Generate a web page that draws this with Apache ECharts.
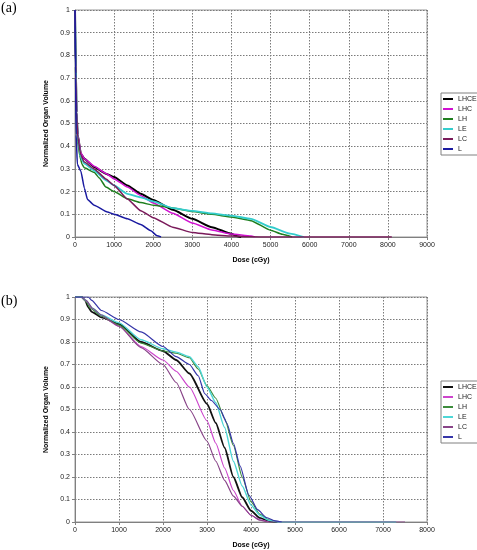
<!DOCTYPE html>
<html>
<head>
<meta charset="utf-8">
<script src="https://cdn.jsdelivr.net/npm/echarts@6/dist/echarts.min.js"></script>
<style>
html,body{margin:0;padding:0;background:#fff;}
#c{width:477px;height:550px;}
</style>
</head>
<body>
<div id="c"></div>
<script>
// ---- Data (dose cGy, normalized organ volume) ----
var seriesNames = ['LHCE', 'LHC', 'LH', 'LE', 'LC', 'L'];
var xTicksA = [0, 1000, 2000, 3000, 4000, 5000, 6000, 7000, 8000, 9000];
var xTicksB = [0, 1000, 2000, 3000, 4000, 5000, 6000, 7000, 8000];

// Panel (a)
var a_LHCE = [[0,1],[20,0.75],[40,0.55],[70,0.45],[150,0.367],[240,0.345],[490,0.308],[790,0.279],[1000,0.264],[1340,0.227],[1680,0.19],[2000,0.163],[2500,0.12],[3000,0.08],[3500,0.043],[4000,0.014],[4150,0.003],[4250,0]];
var a_LHC  = [[0,1],[20,0.72],[40,0.55],[70,0.45],[150,0.37],[240,0.345],[490,0.312],[790,0.28],[1000,0.256],[1340,0.22],[1680,0.183],[2000,0.15],[2500,0.105],[3000,0.062],[3500,0.031],[4000,0.013],[4500,0.004],[4600,0]];
var a_LH   = [[0,1],[20,0.7],[40,0.5],[70,0.42],[120,0.36],[180,0.32],[240,0.305],[490,0.285],[620,0.26],[790,0.22],[1000,0.2],[1340,0.168],[1680,0.152],[2000,0.14],[2500,0.128],[3000,0.112],[3500,0.1],[4000,0.088],[4500,0.072],[5000,0.03],[5300,0.012],[5550,0]];
var a_LE   = [[0,1],[20,0.75],[40,0.55],[70,0.44],[150,0.35],[240,0.323],[490,0.293],[790,0.25],[1000,0.227],[1340,0.19],[1680,0.175],[2000,0.157],[2500,0.127],[3000,0.115],[3500,0.104],[4000,0.094],[4500,0.08],[5000,0.044],[5500,0.015],[5850,0]];
var a_LC   = [[0,1],[20,0.72],[40,0.55],[70,0.44],[150,0.36],[240,0.33],[490,0.3],[790,0.256],[1000,0.227],[1340,0.167],[1680,0.116],[2000,0.085],[2500,0.043],[3000,0.02],[3500,0.01],[4000,0.004],[4500,0.001],[5000,0],[8100,0]];
var a_L    = [[0,1],[15,0.7],[30,0.45],[60,0.32],[150,0.29],[240,0.215],[320,0.165],[490,0.14],[830,0.11],[1000,0.1],[1340,0.08],[1680,0.055],[1940,0.027],[2100,0.005],[2200,0]];

// Panel (b)
var b_LHCE = [[0,1],[150,1],[230,0.985],[300,0.955],[380,0.934],[600,0.91],[1000,0.88],[1500,0.8],[2000,0.76],[2300,0.72],[2600,0.66],[3000,0.525],[3200,0.44],[3400,0.33],[3600,0.2],[3800,0.11],[4000,0.05],[4200,0.018],[4400,0.004],[4600,0]];
var b_LHC  = [[0,1],[150,1],[250,0.98],[400,0.945],[600,0.915],[1000,0.87],[1500,0.78],[2000,0.72],[2300,0.67],[2600,0.6],[3000,0.45],[3200,0.35],[3400,0.24],[3600,0.14],[3800,0.07],[4000,0.03],[4200,0.01],[4400,0]];
var b_LH   = [[0,1],[150,1],[250,0.98],[350,0.95],[600,0.915],[1000,0.875],[1500,0.795],[2000,0.76],[2300,0.75],[2600,0.73],[2800,0.68],[3000,0.605],[3200,0.55],[3400,0.46],[3600,0.34],[3800,0.2],[4000,0.09],[4200,0.035],[4400,0.01],[4600,0]];
var b_LE   = [[0,1],[150,1],[250,0.985],[400,0.95],[600,0.92],[1000,0.885],[1500,0.81],[2000,0.77],[2300,0.755],[2600,0.735],[2800,0.69],[3000,0.6],[3200,0.53],[3400,0.42],[3600,0.27],[3800,0.16],[4000,0.075],[4200,0.03],[4400,0.008],[4600,0],[7300,0]];
var b_LC   = [[0,1],[150,1],[250,0.985],[400,0.95],[600,0.92],[1000,0.87],[1500,0.775],[2000,0.7],[2300,0.62],[2600,0.5],[3000,0.36],[3200,0.27],[3400,0.185],[3600,0.115],[3800,0.07],[4000,0.03],[4200,0.008],[4400,0],[7500,0]];
var b_L    = [[0,1],[300,1],[380,0.985],[600,0.94],[1000,0.9],[1500,0.845],[2000,0.78],[2300,0.735],[2600,0.7],[2800,0.65],[2950,0.57],[3100,0.54],[3300,0.5],[3450,0.44],[3600,0.35],[3750,0.25],[3950,0.12],[4150,0.055],[4350,0.02],[4550,0.005],[4700,0]];

var colorsA = ['#000000', '#d010d0', '#1f7f1f', '#33cccc', '#7a1a5a', '#1a1aa0'];
var colorsB = ['#111111', '#cc44cc', '#3c8c3c', '#4dd6d6', '#884488', '#3535a8'];
var widthsA = [2, 1.5, 1.5, 1.8, 1.5, 1.5];
var widthsB = [1.8, 1.2, 1.2, 1.4, 1.2, 1.2];
var dataA = [a_LHCE, a_LHC, a_LH, a_LE, a_LC, a_L];
var dataB = [b_LHCE, b_LHC, b_LH, b_LE, b_LC, b_L];

var chart = echarts.init(document.getElementById('c'), null, {renderer: 'canvas'});
var FONT = 'Liberation Sans, Arial, sans-serif';

function xAxisCfg(gi, max) {
  return {
    type: 'value', gridIndex: gi, min: 0, max: max, interval: 1000,
    name: 'Dose (cGy)', nameLocation: 'middle', nameGap: 20,
    nameTextStyle: {fontFamily: FONT, fontSize: 7, fontWeight: 'bold', color: '#000'},
    axisLine: {show: true, lineStyle: {color: '#808080', width: 1}},
    axisTick: {show: true, length: 3, lineStyle: {color: '#808080'}},
    axisLabel: {fontFamily: FONT, fontSize: 7, color: '#222', margin: 5,
      formatter: function (v) { return String(Math.round(v)); }},
    splitLine: {show: true, lineStyle: {color: '#7a7a7a', type: [1.5, 1.5], width: 1}}
  };
}
function yAxisCfg(gi) {
  return {
    type: 'value', gridIndex: gi, min: 0, max: 1, interval: 0.1,
    name: 'Normalized Organ Volume', nameLocation: 'middle', nameGap: 18, nameRotate: 90,
    nameTextStyle: {fontFamily: FONT, fontSize: 7, fontWeight: 'bold', color: '#000'},
    axisLine: {show: true, lineStyle: {color: '#808080', width: 1}},
    axisTick: {show: true, length: 3, lineStyle: {color: '#808080'}},
    axisLabel: {fontFamily: FONT, fontSize: 7, color: '#222', margin: 5,
      formatter: function (v) { return String(Math.round(v * 10) / 10); }},
    splitLine: {show: true, lineStyle: {color: '#7a7a7a', type: [1.5, 1.5], width: 1}}
  };
}
function legendCfg(top, colors) {
  return {
    orient: 'vertical', left: 441, top: top,
    data: seriesNames.map(function (n, i) { return {name: n, itemStyle: {color: colors[i]}}; }),
    icon: 'rect', itemWidth: 10, itemHeight: 2, itemGap: 2,
    padding: [2, 2, 2, 2],
    backgroundColor: '#fff', borderColor: '#808080', borderWidth: 1,
    textStyle: {fontFamily: FONT, fontSize: 7, color: '#222', lineHeight: 8},
    selectedMode: false
  };
}

var series = [];
seriesNames.forEach(function (n, i) {
  series.push({
    name: n, type: 'line', xAxisIndex: 0, yAxisIndex: 0, data: dataA[i],
    showSymbol: false, smooth: 0.15, smoothMonotone: 'x',
    lineStyle: {color: colorsA[i], width: widthsA[i]}, itemStyle: {color: colorsA[i]},
    animation: false
  });
});
seriesNames.forEach(function (n, i) {
  series.push({
    name: n, type: 'line', xAxisIndex: 1, yAxisIndex: 1, data: dataB[i],
    showSymbol: false, smooth: 0.2, smoothMonotone: 'x',
    lineStyle: {color: colorsB[i], width: widthsB[i]}, itemStyle: {color: colorsB[i]},
    animation: false
  });
});

chart.setOption({
  animation: false,
  backgroundColor: '#fff',
  grid: [
    {left: 75, top: 10, width: 352, height: 227, show: true, borderColor: '#999', borderWidth: 1, backgroundColor: 'transparent'},
    {left: 75, top: 297, width: 352, height: 227, show: true, borderColor: '#999', borderWidth: 1, backgroundColor: 'transparent'}
  ],
  xAxis: [xAxisCfg(0, 9000), xAxisCfg(1, 8000)],
  yAxis: [yAxisCfg(0), yAxisCfg(1)],
  legend: [legendCfg(93, colorsA), legendCfg(381, colorsB)],
  graphic: [
    {type: 'text', left: 1, top: 1, style: {text: '(a)', font: '14px "Liberation Serif", serif', fill: '#000'}},
    {type: 'text', left: 1, top: 294, style: {text: '(b)', font: '14px "Liberation Serif", serif', fill: '#000'}}
  ],
  series: series
});
</script>
</body>
</html>
